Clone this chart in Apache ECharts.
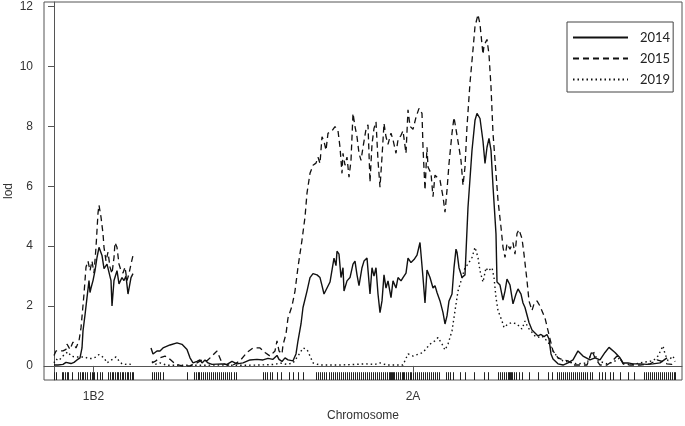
<!DOCTYPE html>
<html>
<head>
<meta charset="utf-8">
<script src="https://cdn.jsdelivr.net/npm/echarts@6/dist/echarts.min.js"></script>
<style>
html,body{margin:0;padding:0;background:#fff;}
#chart{width:685px;height:426px;}
</style>
</head>
<body>
<div id="chart"></div>
<script>
// ---- Chromosomes ----
const chromNames = ['1B2', '2A'];
const chromLengths = [79, 524];
const chromOffsets = [0, 97];

// ---- Year labels ----
const years = ['2014', '2015', '2019'];

// ---- 1B2 data (position cM, LOD) ----
const pos1B2_2014 = [0,4,9,12,14,17,20,23,26,28,29,31,33,35,36,37,39,41,43,45,48,50,53,55,57,58,60,63,65,68,70,72,74,77,79];
const lod1B2_2014 = [0.03,0.03,0.05,0.12,0.17,0.08,0.12,0.2,0.27,0.6,1.17,1.7,2.28,2.85,2.45,2.6,2.85,3.18,3.62,3.96,3.69,3.25,3.4,3.42,2.85,2.0,2.85,3.18,2.74,2.95,2.85,3.0,2.4,2.95,3.08];

const pos1B2_2015 = [0,2,6,9,12,13,16,19,22,25,27,30,32,34,36,38,40,42,44,45,47,49,50,52,54,56,58,60,61,63,65,67,69,71,73,75,77,79];
const lod1B2_2015 = [0.35,0.5,0.5,0.5,0.55,0.73,0.55,0.8,0.6,0.84,1.27,2.4,3.3,3.5,3.18,3.5,3.1,3.96,5.1,5.37,4.97,4.42,3.96,3.5,3.8,3.3,3.08,3.62,4.12,3.96,3.4,3.18,3.1,3.3,2.85,3.08,3.4,3.69];

const pos1B2_2019 = [0,2,5,8,11,14,17,21,24,28,31,34,36,39,42,45,47,50,53,56,59,62,65,68,71,74,77,79];
const lod1B2_2019 = [0.1,0.23,0.18,0.3,0.4,0.47,0.33,0.3,0.3,0.3,0.3,0.25,0.2,0.25,0.3,0.38,0.35,0.27,0.1,0.17,0.23,0.3,0.17,0.07,0.05,0.07,0.05,0.03];

// ---- 2A data (position cM, LOD) ----
const pos2A_2014 = [0,2,4,6,7,9,12,19,26,31,36,39,42,46,49,51,54,57,61,71,76,81,86,92,99,106,112,117,122,126,128,131,134,137,139,142,145,147,150,152,156,159,162,166,169,171,173,176,179,182,183,185,186,188,190,192,193,196,199,202,204,206,208,211,213,216,219,221,223,225,227,229,231,233,235,237,240,242,245,247,250,252,255,257,260,263,266,269,272,274,276,279,282,284,286,289,292,294,296,298,301,303,305,306,308,311,314,317,321,324,326,329,332,334,336,338,340,342,345,346,349,352,354,356,359,362,365,367,370,372,374,376,378,381,384,387,390,393,396,398,400,402,407,412,417,422,427,432,434,439,444,449,454,458,464,469,472,477,482,489,496,502,509,516,521,524];
const lod2A_2014 = [0.6,0.4,0.35,0.5,0.55,0.5,0.6,0.7,0.77,0.72,0.55,0.27,0.1,0.15,0.2,0.1,0.2,0.1,0.05,0.07,0.05,0.15,0.07,0.1,0.2,0.22,0.2,0.25,0.22,0.35,0.22,0.15,0.27,0.2,0.23,0.17,0.4,0.84,1.4,1.95,2.5,2.95,3.08,3.04,2.95,2.68,2.4,2.6,2.8,3.4,3.6,3.35,3.83,3.73,2.95,3.28,2.5,2.84,2.95,3.4,3.5,3.04,2.68,3.28,3.5,3.6,2.4,3.28,3.0,3.28,2.4,1.78,2.17,3.04,2.6,2.84,2.28,2.84,2.6,2.95,2.84,2.95,3.1,3.6,3.45,3.55,3.7,4.12,2.95,2.1,3.2,2.95,2.6,2.68,2.45,2.17,1.78,1.4,1.67,2.17,2.4,3.28,3.9,3.8,3.28,2.95,3.04,5.3,7.2,8.2,8.43,8.26,7.5,6.76,7.3,7.6,7.2,6.0,4.4,2.8,2.7,2.2,2.5,2.9,2.7,2.07,2.4,2.57,2.4,2.1,1.95,1.7,1.45,1.2,1.1,1.0,1.05,0.98,1.05,0.9,0.4,0.23,0.07,0.03,0.1,0.2,0.5,0.33,0.27,0.2,0.27,0.2,0.45,0.62,0.45,0.27,0.1,0.1,0.07,0.07,0.05,0.07,0.1,0.27];

const pos2A_2015 = [1,4,9,14,19,24,31,39,46,51,56,61,66,68,71,76,82,89,96,102,109,114,119,124,126,128,131,132,135,137,138,141,144,147,151,154,156,159,162,165,167,169,171,173,175,177,181,184,187,189,191,192,194,196,198,200,202,204,206,208,210,212,215,217,219,221,223,225,227,229,231,233,235,237,240,242,245,247,250,252,255,257,259,262,265,268,271,272,274,276,277,280,282,284,286,289,292,294,296,298,301,303,305,307,310,312,314,316,319,322,324,327,329,332,333,336,338,340,342,345,347,350,352,354,356,359,362,364,366,368,371,373,376,378,381,383,386,389,391,394,399,402,407,412,417,422,429,436,441,444,449,456,461,466,469,472,479,489,499,506,511,516,521,524];
const lod2A_2015 = [0.1,0.15,0.27,0.33,0.22,0.07,0.0,0.0,0.1,0.2,0.17,0.33,0.5,0.45,0.1,0.03,0.03,0.17,0.45,0.6,0.6,0.45,0.33,0.5,0.84,0.5,0.4,0.7,1.07,1.6,1.6,2.0,2.5,3.3,4.2,4.97,5.77,6.43,6.7,6.77,6.97,6.76,7.65,7.5,7.2,7.77,7.85,7.99,7.85,7.3,6.43,7.1,6.7,6.97,6.3,6.86,8.43,7.99,7.65,7.1,6.86,7.3,7.9,8.05,6.13,7.4,7.93,8.15,6.86,5.97,6.97,8.1,7.65,7.4,7.77,7.55,7.1,7.55,7.7,7.85,7.1,8.55,8.0,7.9,8.3,8.6,8.43,7.3,5.87,7.3,6.64,6.43,5.65,6.37,6.43,6.2,5.65,5.13,5.87,6.75,7.77,8.3,8.26,7.5,6.86,6.03,6.64,7.99,9.45,10.56,11.33,11.73,11.4,10.4,10.7,10.9,10.4,9.32,7.77,6.43,5.53,4.63,3.96,3.62,4.08,3.9,4.12,3.73,4.42,4.55,4.25,3.73,2.85,2.17,1.85,2.07,2.17,2.0,2.0,1.6,0.9,0.5,0.27,0.2,0.17,0.03,0.03,0.03,0.5,0.27,0.03,0.03,0.15,0.33,0.27,0.07,0.03,0.03,0.07,0.2,0.15,0.07,0.05,0.15];

const pos2A_2019 = [1,4,9,16,29,49,69,89,109,124,129,136,142,147,152,156,159,162,169,189,204,214,224,229,236,252,257,262,268,272,279,284,287,291,294,297,301,304,307,311,314,317,321,324,327,329,332,335,337,341,343,345,347,351,353,357,361,366,371,374,377,381,384,387,391,397,402,407,412,419,426,436,442,447,456,462,469,472,482,492,502,507,512,514,517,522,524];
const lod2A_2019 = [0.15,0.05,0.1,0.02,0.02,0.02,0.03,0.02,0.03,0.05,0.1,0.05,0.1,0.33,0.6,0.55,0.33,0.1,0.03,0.03,0.05,0.07,0.05,0.1,0.03,0.03,0.4,0.33,0.4,0.45,0.73,0.84,0.95,0.73,0.53,0.73,1.17,1.84,2.5,2.95,3.28,3.4,3.62,3.96,3.62,3.17,2.8,3.28,3.17,3.28,2.95,2.28,1.85,1.5,1.28,1.4,1.45,1.4,1.23,1.5,1.28,1.12,1.0,0.95,1.0,0.8,0.5,0.27,0.17,0.12,0.07,0.1,0.5,0.17,0.07,0.12,0.27,0.07,0.05,0.12,0.17,0.33,0.67,0.4,0.17,0.33,0.15];

// ---- Marker positions (rug) ----
const markers1B2 = [0,2,8,9,11,13,14,18,24,26,28,29,31,33,36,38,39,40,43,46,48,54,56,58,59,61,63,64,66,68,69,71,73,74,76,78,79];
const markers2A = [1,3,5,7,9,12,36,43,45,47,48,50,52,54,56,58,60,62,64,66,68,70,72,74,76,78,80,83,85,112,114,116,119,121,126,130,138,142,147,152,165,167,169,171,173,175,178,180,182,184,186,188,190,192,194,196,198,200,202,204,206,208,210,212,214,216,218,220,222,224,226,228,230,232,234,236,238,239,240,241,242,243,245,247,249,251,252,253,255,257,259,260,262,264,266,268,270,272,274,276,278,280,282,284,286,288,295,297,299,302,309,314,323,333,337,347,349,351,353,355,357,358,359,360,361,363,365,368,371,378,387,397,401,406,408,410,412,414,416,418,420,422,424,426,428,430,432,434,436,439,441,448,451,454,459,462,469,477,483,493,495,497,499,501,503,505,507,509,511,513,515,517,519,521,523,524];

// ---- Axis settings ----
const yTicks = [0, 2, 4, 6, 8, 10, 12];
const Y_MIN = -0.47, Y_MAX = 12.15;
const X_MIN = -10, X_MAX = 628;
const RUG_TOP = -0.21;

function buildLine(p1, l1, p2, l2) {
  const out = [];
  p1.forEach((p, i) => out.push([p + chromOffsets[0], l1[i]]));
  out.push([(chromOffsets[0] + chromLengths[0] + chromOffsets[1]) / 2, '-']);
  p2.forEach((p, i) => out.push([p + chromOffsets[1], l2[i]]));
  return out;
}
const rugData = markers1B2.map(p => [p + chromOffsets[0], RUG_TOP])
  .concat(markers2A.map(p => [p + chromOffsets[1], RUG_TOP]));
const chromCenters = chromNames.map((n, i) => chromOffsets[i] + chromLengths[i] / 2);

const chart = echarts.init(document.getElementById('chart'), null, {renderer: 'canvas'});
const baseFont = 'Liberation Sans, Arial, sans-serif';
const lineBase = {type: 'line', symbol: 'none', showSymbol: false, connectNulls: false, silent: true, animation: false};
chart.setOption({
  animation: false,
  grid: {left: 44, right: 3, top: 2, bottom: 46, outerBoundsMode: 'none', containLabel: false,
    show: true, borderColor: '#555', borderWidth: 1, backgroundColor: 'transparent'},
  legend: {
    orient: 'vertical', left: 567, top: 22,
    data: years,
    itemWidth: 55, itemHeight: 14, itemGap: 8,
    padding: [9, 3, 6, 5],
    borderColor: '#444', borderWidth: 1, backgroundColor: '#fff',
    itemStyle: {opacity: 0},
    textStyle: {fontFamily: 'Lato, Noto Sans, sans-serif', fontSize: 13, color: '#222', padding: [0, 0, 0, 7]},
    selectedMode: false
  },
  xAxis: {
    type: 'value', min: X_MIN, max: X_MAX,
    name: 'Chromosome', nameLocation: 'middle', nameGap: 30, nameMoveOverlap: false,
    nameTextStyle: {fontFamily: baseFont, fontSize: 12, color: '#333'},
    axisLine: {show: true, lineStyle: {color: '#555'}},
    axisTick: {show: true, length: 6, customValues: chromCenters, lineStyle: {color: '#555'}},
    axisLabel: {show: true, customValues: chromCenters, margin: 11, fontFamily: baseFont, fontSize: 12, color: '#333',
      formatter: function (v) {
        let best = 0;
        chromCenters.forEach((c, i) => { if (Math.abs(c - v) < Math.abs(chromCenters[best] - v)) best = i; });
        return chromNames[best];
      }},
    splitLine: {show: false}
  },
  yAxis: {
    type: 'value', min: Y_MIN, max: Y_MAX,
    name: 'lod', nameLocation: 'middle', nameGap: 29, nameRotate: 90, nameMoveOverlap: false,
    nameTextStyle: {fontFamily: baseFont, fontSize: 12, color: '#333'},
    axisLine: {show: true, lineStyle: {color: '#555'}},
    axisTick: {show: true, length: 6, customValues: yTicks, lineStyle: {color: '#555'}},
    axisLabel: {show: true, customValues: yTicks, margin: 11, fontFamily: baseFont, fontSize: 12, color: '#333'},
    splitLine: {show: false}
  },
  series: [
    Object.assign({}, lineBase, {name: years[0], data: buildLine(pos1B2_2014, lod1B2_2014, pos2A_2014, lod2A_2014),
      lineStyle: {color: '#111', width: 1.4, type: 'solid'}, itemStyle: {color: '#111'}, z: 4}),
    Object.assign({}, lineBase, {name: years[1], data: buildLine(pos1B2_2015, lod1B2_2015, pos2A_2015, lod2A_2015),
      lineStyle: {color: '#111', width: 1.3, type: [6, 4]}, itemStyle: {color: '#111'}, z: 3}),
    Object.assign({}, lineBase, {name: years[2], data: buildLine(pos1B2_2019, lod1B2_2019, pos2A_2019, lod2A_2019),
      lineStyle: {color: '#111', width: 1.4, type: [1.5, 3]}, itemStyle: {color: '#111'}, z: 2}),
    {
      type: 'custom', name: 'markers', silent: true, animation: false,
      data: rugData, encode: {x: 0, y: 1},
      renderItem: function (params, api) {
        const top = api.coord([api.value(0), api.value(1)]);
        const bot = api.coord([api.value(0), Y_MIN]);
        const x = Math.round(top[0]) + 0.5;
        return {type: 'line', shape: {x1: x, y1: top[1], x2: x, y2: bot[1]}, style: {stroke: '#222', lineWidth: 1}};
      }
    }
  ]
});
</script>
</body>
</html>
